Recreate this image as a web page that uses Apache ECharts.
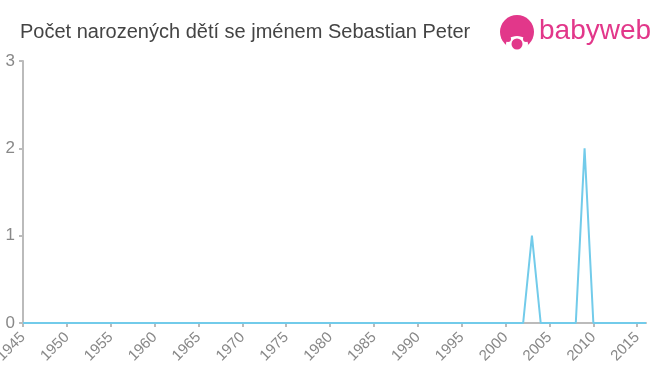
<!DOCTYPE html>
<html><head><meta charset="utf-8">
<script src="https://cdn.jsdelivr.net/npm/echarts@6/dist/echarts.min.js"></script>
<style>html,body{margin:0;padding:0;background:#fff}#c{width:660px;height:375px}</style>
</head><body><div id="c"></div>
<script>
const title = "Počet narozených dětí se jménem Sebastian Peter";
const years = [1945,1946,1947,1948,1949,1950,1951,1952,1953,1954,1955,1956,1957,1958,1959,1960,1961,1962,1963,1964,1965,1966,1967,1968,1969,1970,1971,1972,1973,1974,1975,1976,1977,1978,1979,1980,1981,1982,1983,1984,1985,1986,1987,1988,1989,1990,1991,1992,1993,1994,1995,1996,1997,1998,1999,2000,2001,2002,2003,2004,2005,2006,2007,2008,2009,2010,2011,2012,2013,2014,2015,2016];
const counts = [0,0,0,0,0,0,0,0,0,0,0,0,0,0,0,0,0,0,0,0,0,0,0,0,0,0,0,0,0,0,0,0,0,0,0,0,0,0,0,0,0,0,0,0,0,0,0,0,0,0,0,0,0,0,0,0,0,0,1,0,0,0,0,0,2,0,0,0,0,0,0,0];
const yTicks = [0,1,2,3];

const chart = echarts.init(document.getElementById('c'));
const pink = '#e2378a';
const font = 'Liberation Sans, Arial, sans-serif';
chart.setOption({
  animation: false,
  title: {text: title, left: 15, top: 17, textStyle: {fontFamily: font, fontSize: 20, fontWeight: 'normal', color: '#444'}},
  grid: {left: 23, right: 14, top: 61, bottom: 52, containLabel: false, outerBoundsMode: 'none'},
  xAxis: {
    type: 'category', data: years.map(String), boundaryGap: false,
    axisLine: {lineStyle: {color: '#bbb', width: 2}},
    axisTick: {interval: 4, length: 4, lineStyle: {color: '#bbb', width: 2}},
    axisLabel: {interval: 4, rotate: 45, color: '#888', fontSize: 15, fontFamily: font, margin: 12}
  },
  yAxis: {
    type: 'value', min: yTicks[0], max: yTicks[yTicks.length-1], interval: 1,
    axisLine: {show: true, lineStyle: {color: '#bbb', width: 2}},
    axisTick: {show: true, length: 4, lineStyle: {color: '#bbb', width: 2}},
    splitLine: {show: false},
    axisLabel: {color: '#888', fontSize: 17, fontFamily: font, margin: 8}
  },
  series: [{type: 'line', data: counts, symbol: 'none', lineStyle: {color: '#72cbea', width: 2}}],
  graphic: [
    {type: 'circle', shape: {cx: 517, cy: 32, r: 17}, style: {fill: pink}},
    {type: 'ellipse', shape: {cx: 517, cy: 44, rx: 11, ry: 8}, style: {fill: '#fff'}},
    {type: 'circle', shape: {cx: 508, cy: 39, r: 3}, style: {fill: pink}},
    {type: 'circle', shape: {cx: 526, cy: 39, r: 3}, style: {fill: pink}},
    {type: 'circle', shape: {cx: 517, cy: 44, r: 5.5}, style: {fill: pink}},
    {type: 'text', left: 539, top: 17, style: {text: 'babyweb', fill: pink, fontSize: 28, fontFamily: font}}
  ]
});
</script></body></html>
